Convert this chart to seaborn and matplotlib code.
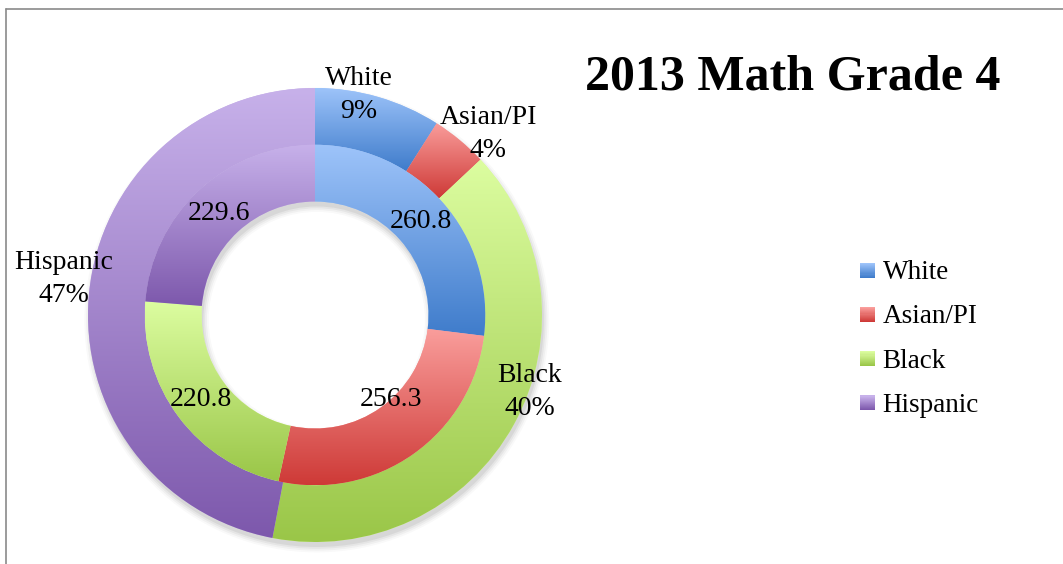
import numpy as np
import matplotlib
matplotlib.use("Agg")
import matplotlib.pyplot as plt
import seaborn as sns
from matplotlib.colors import to_rgb
from matplotlib.patches import Rectangle, Wedge
from matplotlib.lines import Line2D
from matplotlib.legend_handler import HandlerBase

# ---------------- data ----------------
groups = ["White", "Asian/PI", "Black", "Hispanic"]
population_share = [9, 4, 40, 47]            # outer ring, percent
math_scores = [260.8, 256.3, 220.8, 229.6]   # inner ring, scale scores
title_text = "2013 Math Grade 4"

# ---------------- style ----------------
top_colors = ["#9EC4FA", "#FA9E9C", "#DCFDA0", "#C7B1EA"]
bottom_colors = ["#3F7CCB", "#CE3A37", "#9AC648", "#7D58AC"]

# label layout (axes data units, radius 1 = outer edge)
outer_label_xy = [(0.194, 0.969), (0.764, 0.797), (0.947, -0.339), (-1.106, 0.159)]
inner_label_xy = [(0.467, 0.410), (0.335, -0.374), (-0.502, -0.374), (-0.423, 0.449)]

sns.set_theme(style="white")
plt.rcParams["font.family"] = ["Liberation Serif", "DejaVu Serif"]
plt.rcParams["text.color"] = "black"

W, H = 1063, 564
fig = plt.figure(figsize=(W / 100, H / 100), dpi=100)
fig.patch.set_facecolor("white")

cx, cy, R = 315, 315, 227
L = 1.15  # axes half-extent in data units
ax = fig.add_axes([(cx - L * R) / W, (H - cy - L * R) / H, 2 * L * R / W, 2 * L * R / H])


def gradient(top, bottom, n=256):
    t = np.linspace(0, 1, n)[:, None]
    a = np.array(to_rgb(top))[None, :]
    b = np.array(to_rgb(bottom))[None, :]
    g = a * (1 - t) + b * t
    return np.repeat(g[:, None, :], 2, axis=1)


# soft shadow beneath donut
for dr, al in [(0.024, 0.025), (0.016, 0.035), (0.008, 0.045), (0.0, 0.06)]:
    sh = Wedge((0.008, -0.022), 1.0 + dr, 0, 360, width=0.5 + 2 * dr,
               facecolor="black", edgecolor="none", alpha=al, zorder=0)
    ax.add_patch(sh)

outer_wedges, _ = ax.pie(population_share, radius=1.0, startangle=90, counterclock=False,
                         colors=top_colors,
                         wedgeprops=dict(width=0.25, edgecolor="none", linewidth=0))
inner_wedges, _ = ax.pie(math_scores, radius=0.75, startangle=90, counterclock=False,
                         colors=top_colors,
                         wedgeprops=dict(width=0.25, edgecolor="none", linewidth=0))

for wedges in (outer_wedges, inner_wedges):
    for w, tc, bc in zip(wedges, top_colors, bottom_colors):
        bb = w.get_path().get_extents()
        im = ax.imshow(gradient(tc, bc), extent=[bb.x0, bb.x1, bb.y0, bb.y1],
                       origin="upper", aspect="auto", interpolation="bilinear",
                       zorder=w.get_zorder() + 0.1)
        im.set_clip_path(w)

ax.set_xlim(-L, L)
ax.set_ylim(-L, L)
ax.set_aspect("equal")
ax.axis("off")

label_fs = 20
for (x, y), g, p in zip(outer_label_xy, groups, population_share):
    ax.text(x, y, f"{g}\n{p}%", ha="center", va="center", fontsize=label_fs,
            color="black", linespacing=1.38, zorder=10)
for (x, y), s in zip(inner_label_xy, math_scores):
    ax.text(x, y, f"{s:.1f}", ha="center", va="center", fontsize=label_fs,
            color="black", zorder=10)

# title
fig.text(585 / W, 1 - 89 / H, title_text, ha="left", va="baseline",
         fontsize=36, fontweight="bold", color="black")


# legend with gradient squares
class GradHandler(HandlerBase):
    def __init__(self, top, bottom, n=14):
        super().__init__()
        self.top, self.bottom, self.n = top, bottom, n

    def create_artists(self, legend, orig_handle, xdescent, ydescent, width, height,
                       fontsize, trans):
        arts = []
        a, b = np.array(to_rgb(self.top)), np.array(to_rgb(self.bottom))
        side = min(width, height)
        h = side / self.n
        for i in range(self.n):
            t = i / (self.n - 1)
            c = b * (1 - t) + a * t
            r = Rectangle((-xdescent, -ydescent + i * h), side, h * 1.05,
                          facecolor=c, edgecolor="none", transform=trans)
            arts.append(r)
        return arts


handles = [Rectangle((0, 0), 1, 1, label=g) for g in groups]
hmap = {h: GradHandler(tc, bc) for h, tc, bc in zip(handles, top_colors, bottom_colors)}
leg = fig.legend(handles=handles, labels=groups, handler_map=hmap,
                 loc="center left", bbox_to_anchor=(860 / W, 1 - 339 / H),
                 frameon=False, fontsize=19.5, handlelength=0.55, handleheight=0.55,
                 handletextpad=0.28, labelspacing=0.71, borderpad=0, borderaxespad=0)
for t in leg.get_texts():
    t.set_color("black")

# frame lines (left and top)
fig.add_artist(Line2D([6 / W, 6 / W], [0, 1 - 9 / H], color="#8a8a8a", lw=1.2,
                      transform=fig.transFigure))
fig.add_artist(Line2D([6 / W, 1], [1 - 9 / H, 1 - 9 / H], color="#8a8a8a", lw=1.2,
                      transform=fig.transFigure))

fig.savefig("out.png", dpi=100, facecolor="white")
